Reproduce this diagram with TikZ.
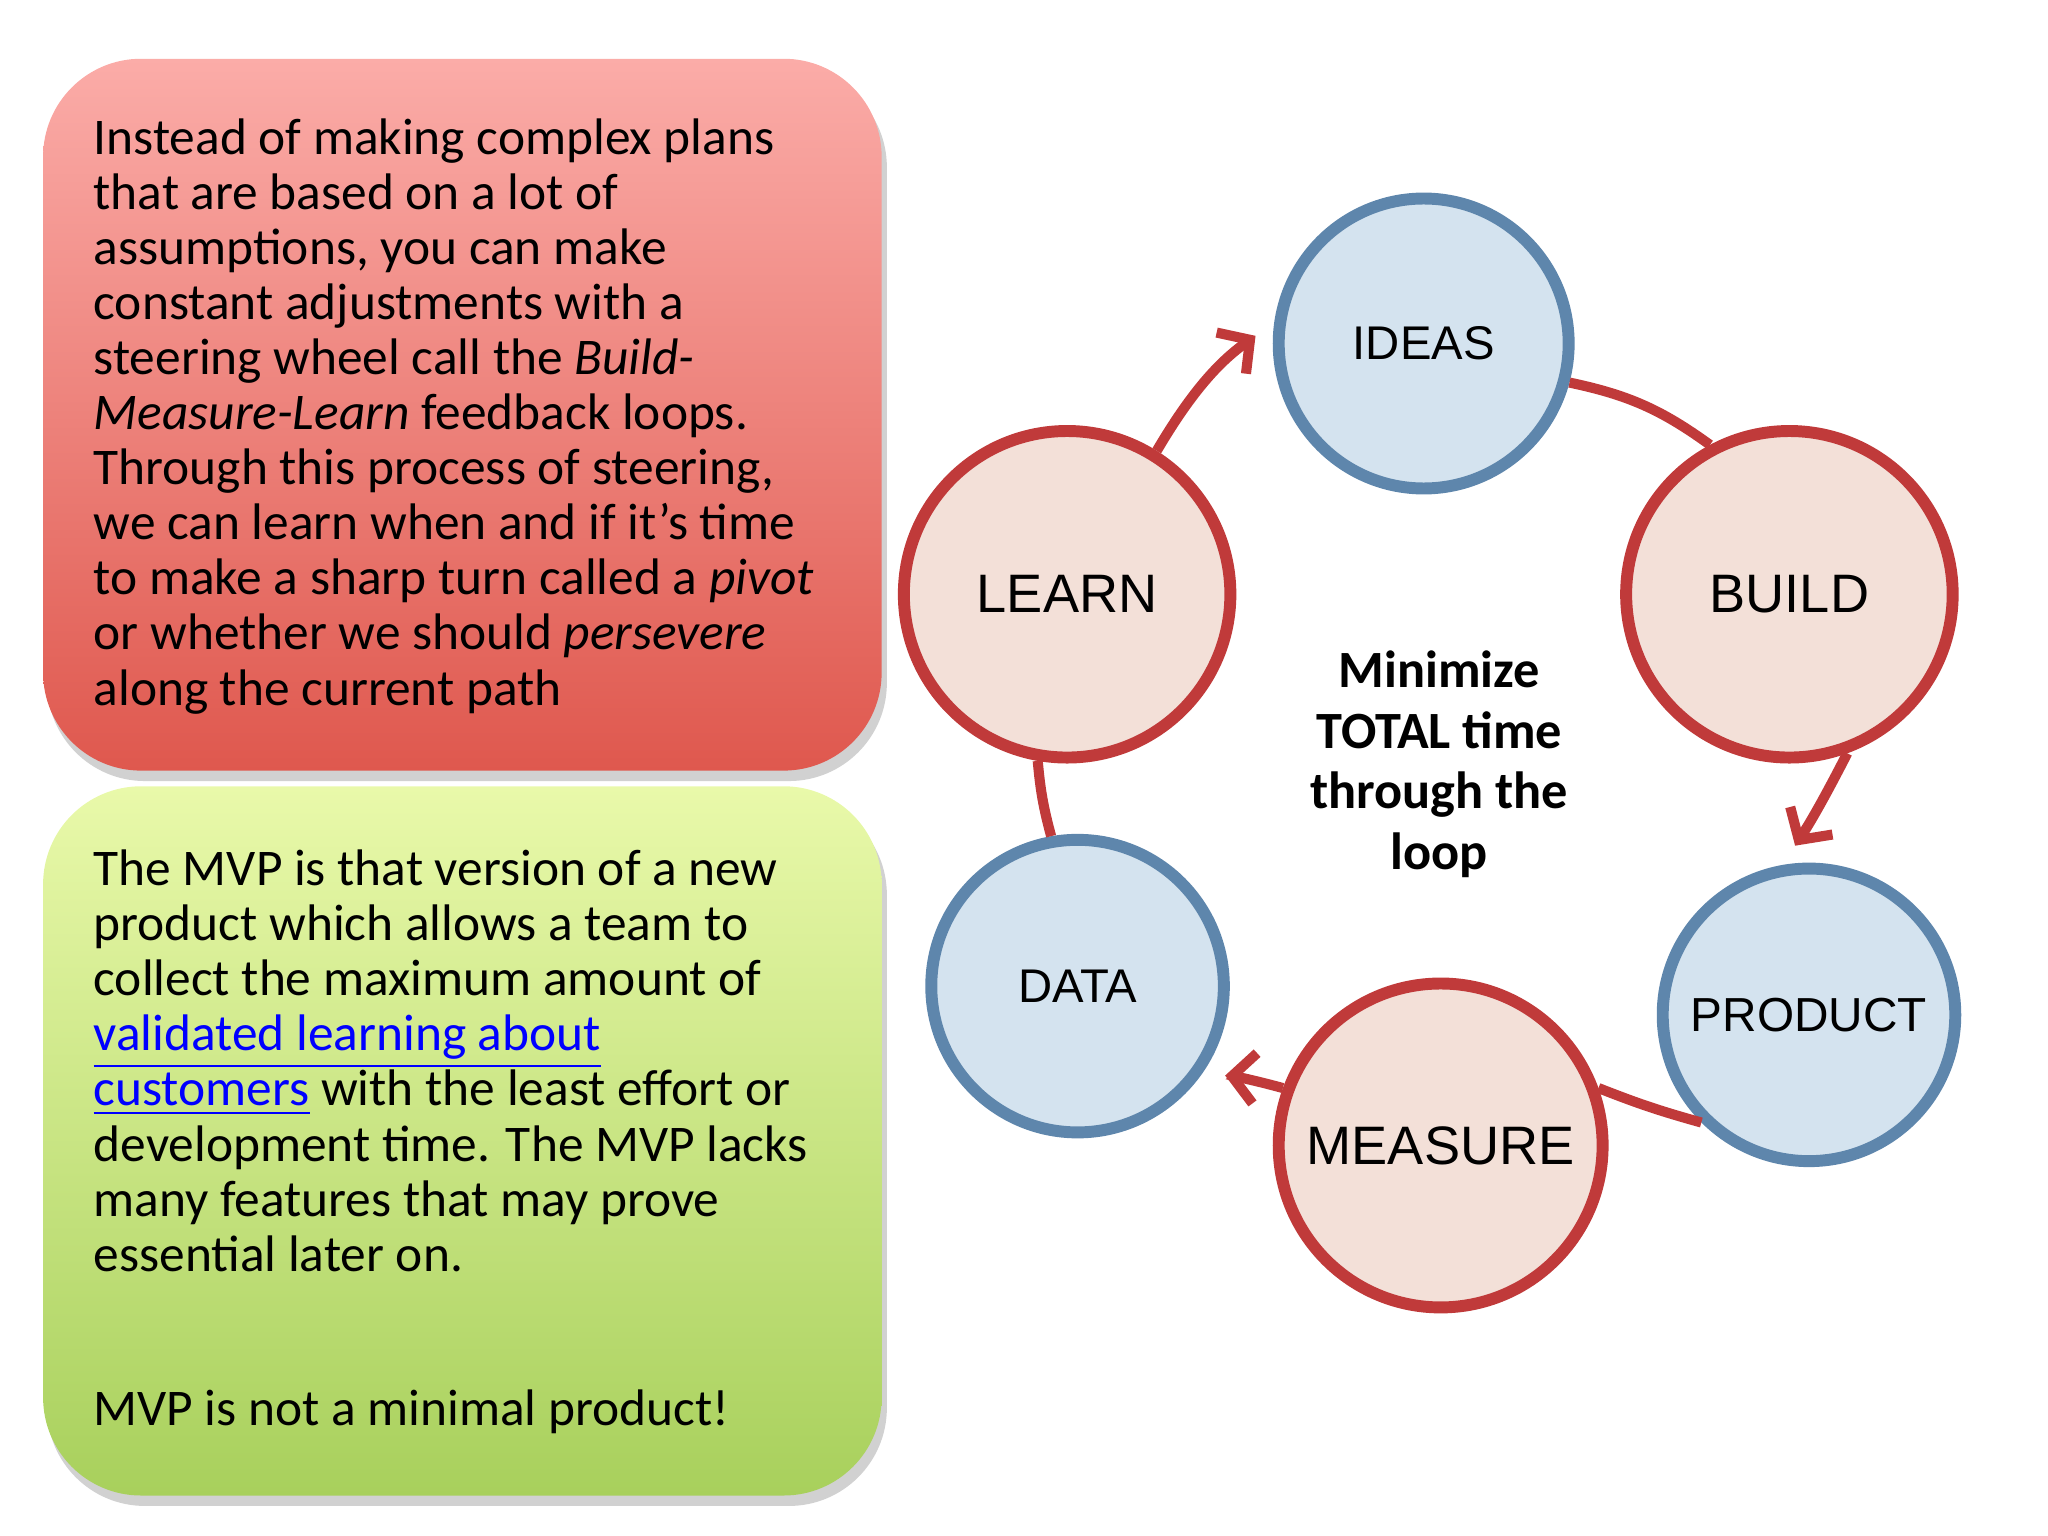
\documentclass[tikz,border=0pt]{standalone}
\usepackage{fontspec}
\setmainfont{Carlito}
\newfontfamily\arialf{Liberation Sans}
\usetikzlibrary{arrows.meta,shadows}
\definecolor{cblue}{HTML}{D4E3EF}
\definecolor{cblueb}{HTML}{5E86AC}
\definecolor{cred}{HTML}{F3E0D8}
\definecolor{credb}{HTML}{C03A3A}
\begin{document}
\begin{tikzpicture}[
  bub/.style={circle, line width=2.6pt, inner sep=0pt, font=\arialf},
  bb/.style={bub, fill=cblue, draw=cblueb},
  rb/.style={bub, fill=cred, draw=credb},
  link/.style={draw=credb, line width=2.2pt},
  arr/.style={link, -{Straight Barb[length=5pt,width=11pt,line width=2.2pt]}, shorten >=5pt},
  panel/.style={rounded corners=0.75cm},
  txt/.style={anchor=north west, inner sep=0pt, align=left,
    font=\fontsize{11.2}{12}\selectfont}
]
\useasboundingbox (0,0) rectangle (15.68,-11.76);

% panels
\fill[black!18, panel] (0.36,-0.53) rectangle (6.79,-5.98);
\shade[panel, top color={rgb,255:red,251;green,172;blue,168}, bottom color={rgb,255:red,223;green,88;blue,78}]
  (0.33,-0.45) rectangle (6.75,-5.90);
\fill[black!18, panel] (0.36,-6.10) rectangle (6.79,-11.53);
\shade[panel, top color={rgb,255:red,233;green,249;blue,170}, bottom color={rgb,255:red,168;green,208;blue,92}]
  (0.33,-6.02) rectangle (6.75,-11.45);

\node[txt] (t1) at (0.71,-0.90) {Instead of making complex plans\\
that are based on a lot of\\
assumptions, you can make\\
constant adjustments with a\\
steering wheel call the \emph{Build-}\\
\emph{Measure-Learn} feedback loops.\\
Through this process of steering,\\
we can learn when and if it’s time\\
to make a sharp turn called a \emph{pivot}\\
or whether we should \emph{persevere}\\
along the current path};

\node[txt] (t2) at (0.71,-6.50) {The MVP is that version of a new\\
product which allows a team to\\
collect the maximum amount of\\
\textcolor{blue}{\underline{validated learning about}}\\
\textcolor{blue}{\underline{customers}} with the least effort or\\
development time. The MVP lacks\\
many features that may prove\\
essential later on.};
\node[txt] (t3) at (0.71,-10.63) {MVP is not a minimal product!};

% loop
\node[bb, minimum size=2.22cm] (ideas) at (10.90,-2.63) {\fontsize{10.3}{12}\selectfont IDEAS};
\node[rb, minimum size=2.50cm] (build) at (13.70,-4.55) {\fontsize{11.8}{14}\selectfont BUILD};
\node[bb, minimum size=2.24cm] (product) at (13.85,-7.77) {\fontsize{10.4}{12}\selectfont PRODUCT};
\node[rb, minimum size=2.48cm] (measure) at (11.03,-8.77) {\fontsize{11.8}{14}\selectfont MEASURE};
\node[bb, minimum size=2.24cm] (data) at (8.25,-7.55) {\fontsize{10.3}{12}\selectfont DATA};
\node[rb, minimum size=2.50cm] (learn) at (8.17,-4.55) {\fontsize{11.8}{14}\selectfont LEARN};

\node[font=\bfseries\fontsize{11.4}{13.2}\selectfont, align=center] (mid) at (11.02,-5.85)
  {Minimize\\TOTAL time\\through the\\loop};

\draw[arr] (learn.58) to[bend left=12] (ideas.172);
\draw[link] (ideas.-15) to[bend left=12] (build.118);
\draw[arr] (build.-70) to[bend left=3] (product.100);
\draw[link] (product.-135) to[bend left=3] (measure.20);
\draw[arr] (measure.160) to[bend right=5] (data.-35);
\draw[link] (data.100) to[bend left=5] (learn.-100);
\end{tikzpicture}
\end{document}
